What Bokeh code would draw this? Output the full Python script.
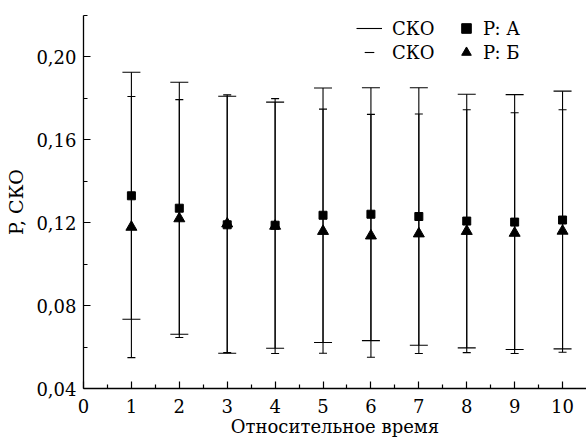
from bokeh.plotting import figure
from bokeh.models import (ColumnDataSource, FixedTicker, Legend, LegendItem, Range1d)
from bokeh.embed import file_html
from bokeh.resources import INLINE

# ---- data ----
time = [1, 2, 3, 4, 5, 6, 7, 8, 9, 10]
p_a = [0.1330, 0.1270, 0.1190, 0.1188, 0.1236, 0.1241, 0.1230, 0.1208, 0.1203, 0.1213]
sko_a = [0.0596, 0.0608, 0.0620, 0.0594, 0.0614, 0.0610, 0.0621, 0.0612, 0.0615, 0.0622]
p_b = [0.1179, 0.1220, 0.1195, 0.1184, 0.1159, 0.1137, 0.1147, 0.1159, 0.1150, 0.1160]
sko_b = [0.0630, 0.0574, 0.0622, 0.0615, 0.0589, 0.0586, 0.0578, 0.0586, 0.0581, 0.0585]

x_ticks = [0, 1, 2, 3, 4, 5, 6, 7, 8, 9, 10]
x_minor = [0.5, 1.5, 2.5, 3.5, 4.5, 5.5, 6.5, 7.5, 8.5, 9.5]
y_ticks = [0.04, 0.08, 0.12, 0.16, 0.20]
y_tick_labels = ["0,04", "0,08", "0,12", "0,16", "0,20"]
y_minor = [0.06, 0.10, 0.14, 0.18, 0.22]

x_title = "Относительное время"
y_title = "P, СКО"
legend_labels = ["СКО", "СКО", "P: А", "P: Б"]

FONT = "DejaVu Serif"
FS = "18px"

src_a = ColumnDataSource(dict(
    x=time, y=p_a,
    lo=[m - s for m, s in zip(p_a, sko_a)],
    hi=[m + s for m, s in zip(p_a, sko_a)]))
src_b = ColumnDataSource(dict(
    x=time, y=p_b,
    lo=[m - s for m, s in zip(p_b, sko_b)],
    hi=[m + s for m, s in zip(p_b, sko_b)]))

p = figure(width=586, height=441, output_backend="svg", toolbar_location=None,
           x_range=Range1d(0, 10.5), y_range=Range1d(0.04, 0.22),
           min_border_left=83, min_border_right=0, min_border_top=15, min_border_bottom=53)
p.outline_line_color = None
p.grid.visible = False
p.background_fill_color = "white"
p.border_fill_color = "white"

LW = 1.1
# error-bar stems
s_a = p.segment(x0="x", y0="lo", x1="x", y1="hi", source=src_a, line_color="black", line_width=LW)
s_b = p.segment(x0="x", y0="lo", x1="x", y1="hi", source=src_b, line_color="black", line_width=LW)
# error-bar caps: wide for A, narrow for B
p.scatter("x", "lo", source=src_a, marker="dash", size=18, line_color="black", line_width=LW)
p.scatter("x", "hi", source=src_a, marker="dash", size=18, line_color="black", line_width=LW)
c_b = p.scatter("x", "lo", source=src_b, marker="dash", size=8, line_color="black", line_width=LW)
p.scatter("x", "hi", source=src_b, marker="dash", size=8, line_color="black", line_width=LW)

r_a = p.scatter("x", "y", source=src_a, marker="square", size=8,
                fill_color="black", line_color="black")
r_b = p.scatter("x", "y", source=src_b, marker="triangle", size=11,
                fill_color="black", line_color="black")

common = dict(glyph_height=24, label_height=20, spacing=0, padding=0, margin=0,
              border_line_color=None, background_fill_alpha=0,
              label_text_font=FONT, label_text_font_size=FS, label_text_color="black")
leg1 = Legend(items=[LegendItem(label=legend_labels[0], renderers=[s_a]),
                     LegendItem(label=legend_labels[1], renderers=[c_b])],
              location=(273, 324), glyph_width=26, label_standoff=10, **common)
leg2 = Legend(items=[LegendItem(label=legend_labels[2], renderers=[r_a]),
                     LegendItem(label=legend_labels[3], renderers=[r_b])],
              location=(371, 324), glyph_width=24, label_standoff=5, **common)
p.add_layout(leg1)
p.add_layout(leg2)

# axes
for ax in (p.xaxis[0], p.yaxis[0]):
    ax.axis_line_color = "black"
    ax.axis_line_width = 1.3
    ax.major_tick_line_color = "black"
    ax.minor_tick_line_color = "black"
    ax.major_tick_line_width = 1.2
    ax.minor_tick_line_width = 1.2
    ax.major_tick_in = 7
    ax.major_tick_out = 0
    ax.minor_tick_in = 4
    ax.minor_tick_out = 0
    ax.major_label_text_font = FONT
    ax.major_label_text_font_size = FS
    ax.major_label_text_color = "black"
    ax.axis_label_text_font = FONT
    ax.axis_label_text_font_style = "normal"
    ax.axis_label_text_color = "black"

p.xaxis.ticker = FixedTicker(ticks=x_ticks, minor_ticks=x_minor)
p.yaxis.ticker = FixedTicker(ticks=y_ticks, minor_ticks=y_minor)
p.yaxis.major_label_overrides = {t: s for t, s in zip(y_ticks, y_tick_labels)}
p.xaxis.major_label_standoff = 10
p.yaxis.major_label_standoff = 7

p.xaxis.axis_label = x_title
p.xaxis.axis_label_text_font_size = FS
p.xaxis.axis_label_standoff = 0
p.yaxis.axis_label = y_title
p.yaxis.axis_label_text_font_size = "19px"
p.yaxis.axis_label_standoff = 6

open("out.html", "w").write(file_html(p, INLINE))
